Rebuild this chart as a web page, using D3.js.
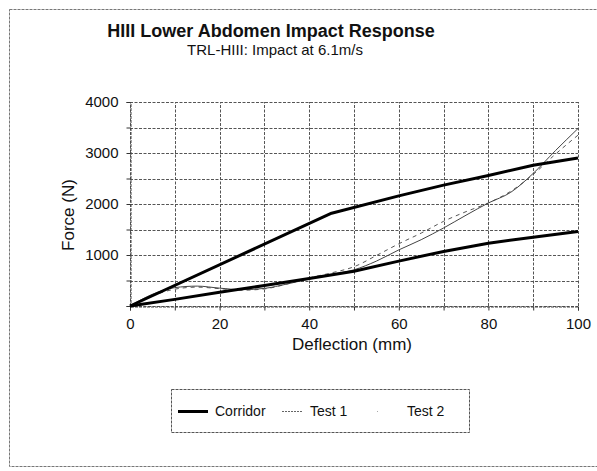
<!DOCTYPE html>
<html lang="en">

<head>
    <meta charset="UTF-8">
    <title>HIII Lower Abdomen Impact Response</title>
    <style>
        body { margin: 0; background: #fff; }
        text { font-family: "Liberation Sans", Arial, sans-serif; fill: #111; }
    </style>
</head>

<body>
    <div id="my_dataviz"></div>

    <script src="https://d3js.org/d3.v7.min.js"></script>
    <script>

        // data (deflection mm, force N)
        var deflection = [0, 5, 10, 15, 20, 25, 30, 35, 40, 45, 50, 55, 60, 65, 70, 75, 80, 85, 90, 95, 100];
        var test1 = [0, 230, 360, 390, 350, 320, 345, 430, 530, 620, 710, 880, 1100, 1300, 1530, 1780, 2020, 2230, 2600, 3050, 3480];
        var test2 = [0, 200, 330, 370, 340, 310, 335, 430, 550, 650, 770, 990, 1220, 1430, 1660, 1850, 2020, 2250, 2580, 2980, 3350];

        var corridorUpperX = [0, 45, 60, 70, 80, 90, 100];
        var corridorUpperY = [0, 1820, 2160, 2370, 2560, 2760, 2900];
        var corridorLowerX = [0, 10, 20, 30, 40, 50, 60, 70, 80, 90, 100];
        var corridorLowerY = [0, 130, 270, 400, 540, 680, 880, 1070, 1230, 1350, 1460];

        var xTicks = [0, 20, 40, 60, 80, 100];
        var yTicks = [1000, 2000, 3000, 4000];

        var width = 597, height = 471;
        var margin = {top: 102, right: 19, bottom: 165, left: 130};

        var svg = d3.select("#my_dataviz")
          .append("svg")
            .attr("width", width)
            .attr("height", height);

        // scanned page frame
        svg.append("rect")
            .attr("x", 9.5).attr("y", 9.5)
            .attr("width", 600).attr("height", 457)
            .attr("fill", "none")
            .attr("stroke", "#777")
            .attr("stroke-dasharray", "3,1");

        var x = d3.scaleLinear()
          .domain([0, 100])
          .range([margin.left, width - margin.right]);

        var y = d3.scaleLinear()
          .domain([0, 4000])
          .range([height - margin.bottom, margin.top]);

        // gridlines
        var grid = svg.append("g")
            .attr("stroke", "#555")
            .attr("stroke-width", 1)
            .attr("stroke-dasharray", "3,1.5");

        grid.selectAll(".vgrid")
          .data(d3.range(0, 101, 10))
          .enter().append("line")
            .attr("x1", function(d) { return Math.round(x(d)) + 0.5; })
            .attr("x2", function(d) { return Math.round(x(d)) + 0.5; })
            .attr("y1", y(0))
            .attr("y2", y(4000));

        grid.selectAll(".hgrid")
          .data(d3.range(0, 4001, 500))
          .enter().append("line")
            .attr("x1", x(0))
            .attr("x2", x(100))
            .attr("y1", function(d) { return Math.round(y(d)) + 0.5; })
            .attr("y2", function(d) { return Math.round(y(d)) + 0.5; });

        // axes
        var xAxis = svg.append("g")
            .attr("transform", "translate(0," + (Math.round(y(0)) + 0.5) + ")")
            .call(d3.axisBottom(x).tickValues(d3.range(0, 101, 10)).tickSize(4).tickFormat(function(d) { return xTicks.indexOf(d) >= 0 ? d : ""; }));

        var yAxis = svg.append("g")
            .attr("transform", "translate(" + (Math.round(x(0)) + 0.5) + ",0)")
            .call(d3.axisLeft(y).tickValues(d3.range(0, 4001, 500)).tickSize(4).tickFormat(function(d) { return yTicks.indexOf(d) >= 0 ? d : ""; }));

        [xAxis, yAxis].forEach(function(a) {
            a.select(".domain").attr("stroke", "#444").attr("stroke-dasharray", "3,1");
            a.selectAll(".tick line").attr("stroke", "#333");
            a.selectAll("text")
                .attr("fill", "#111")
                .style("font-size", "15px")
                .style("font-family", "'Liberation Sans', Arial, sans-serif");
        });
        xAxis.selectAll("text").attr("dy", "1.05em");
        yAxis.selectAll("text").attr("x", -12);

        // lines
        var line = d3.line()
            .x(function(d) { return x(d[0]); })
            .y(function(d) { return y(d[1]); });

        function pairs(xs, ys) { return xs.map(function(v, i) { return [v, ys[i]]; }); }

        svg.append("path")
            .datum(pairs(deflection, test2))
            .attr("fill", "none")
            .attr("stroke", "#555")
            .attr("stroke-width", 1)
            .attr("stroke-dasharray", "4,4")
            .attr("d", line.curve(d3.curveMonotoneX));

        svg.append("path")
            .datum(pairs(deflection, test1))
            .attr("fill", "none")
            .attr("stroke", "#444")
            .attr("stroke-width", 1)
            .attr("d", line.curve(d3.curveMonotoneX));

        [pairs(corridorUpperX, corridorUpperY), pairs(corridorLowerX, corridorLowerY)].forEach(function(c) {
            svg.append("path")
                .datum(c)
                .attr("fill", "none")
                .attr("stroke", "#000")
                .attr("stroke-width", 3)
                .attr("stroke-linejoin", "round")
                .attr("d", line.curve(d3.curveLinear));
        });

        // titles
        svg.append("text")
            .attr("x", 271).attr("y", 37)
            .attr("text-anchor", "middle")
            .style("font-size", "18px")
            .style("font-weight", "bold")
            .text("HIII Lower Abdomen Impact Response");

        svg.append("text")
            .attr("x", 275).attr("y", 55)
            .attr("text-anchor", "middle")
            .style("font-size", "15px")
            .text("TRL-HIII: Impact at 6.1m/s");

        svg.append("text")
            .attr("x", 352).attr("y", 350)
            .attr("text-anchor", "middle")
            .style("font-size", "17px")
            .text("Deflection (mm)");

        svg.append("text")
            .attr("transform", "translate(74,215) rotate(-90)")
            .attr("text-anchor", "middle")
            .style("font-size", "17px")
            .text("Force (N)");

        // legend
        var legend = svg.append("g");
        legend.append("rect")
            .attr("x", 171.5).attr("y", 389.5)
            .attr("width", 298).attr("height", 43)
            .attr("fill", "none")
            .attr("stroke", "#555")
            .attr("stroke-dasharray", "3,1");

        var legendItems = [
            {name: "Corridor", x1: 178, x2: 208, tx: 215, w: 3, c: "#000", dash: null},
            {name: "Test 1", x1: 282, x2: 303, tx: 310, w: 1, c: "#666", dash: "2,1"},
            {name: "Test 2", x1: 377, x2: 383, tx: 407, w: 1, c: "#aaa", dash: "1,5"}
        ];

        legendItems.forEach(function(d) {
            legend.append("line")
                .attr("x1", d.x1).attr("x2", d.x2)
                .attr("y1", 411.5).attr("y2", 411.5)
                .attr("stroke", d.c)
                .attr("stroke-width", d.w)
                .attr("stroke-dasharray", d.dash);
            legend.append("text")
                .attr("x", d.tx).attr("y", 416)
                .style("font-size", "14px")
                .text(d.name);
        });

    </script>
</body>

</html>
